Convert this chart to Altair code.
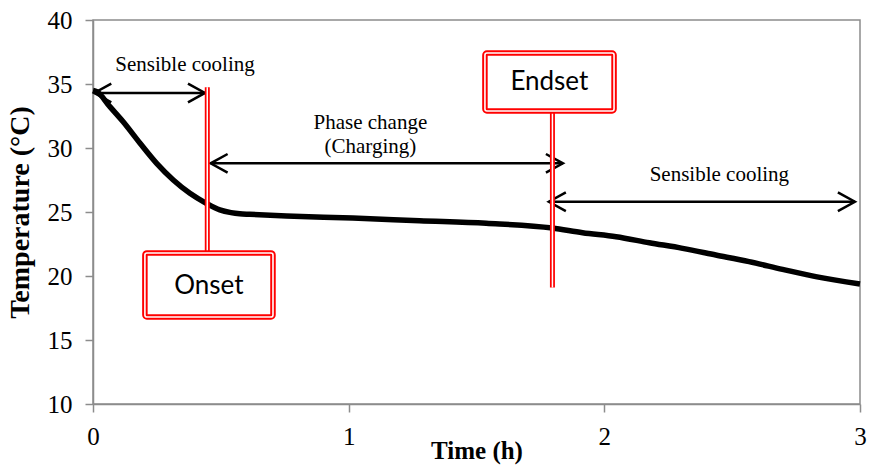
import altair as alt
import pandas as pd

# Cooling curve of the PCM sample: time (h) vs temperature (°C)
time_h = [0.0, 0.015, 0.066, 0.118, 0.184, 0.249, 0.314, 0.379, 0.443, 0.496,
          0.540, 0.574, 0.613, 0.757, 1.016, 1.277, 1.538, 1.797, 1.915, 2.046,
          2.176, 2.306, 2.436, 2.566, 2.697, 2.827, 3.0]
temp_c = [34.5, 34.4, 33.23, 32.05, 30.37, 28.8, 27.5, 26.46, 25.68, 25.16,
          24.95, 24.86, 24.82, 24.69, 24.53, 24.32, 24.12, 23.75, 23.38, 23.07,
          22.6, 22.16, 21.64, 21.12, 20.52, 19.95, 19.37]

# Double-headed arrows marking the stages
arrow_start = [0.005, 0.46, 1.783]
arrow_end = [0.438, 1.838, 2.98]
arrow_level = [34.3, 28.8, 25.8]

# Stage labels
stage_text = ["Sensible cooling", "Phase change", "(Charging)", "Sensible cooling"]
stage_t = [0.36, 1.085, 1.085, 2.45]
stage_temp = [36.5, 31.95, 30.05, 27.9]

# Onset / endset markers: leader line and boxed label
marker_text = ["Onset", "Endset"]
marker_t = [0.447, 1.797]
marker_top = [34.75, 32.89]
marker_bottom = [21.8, 19.1]
box_left = [0.203, 1.533]
box_right = [0.704, 2.038]
box_low = [16.8, 32.89]
box_high = [21.8, 37.42]
label_t = [0.453, 1.785]
label_temp = [19.25, 35.12]

curve = pd.DataFrame({"t": time_h, "T": temp_c})
arrows = pd.DataFrame({"x1": arrow_start, "x2": arrow_end, "y": arrow_level})
stages = pd.DataFrame({"label": stage_text, "t": stage_t, "T": stage_temp})
markers = pd.DataFrame({
    "label": marker_text, "t": marker_t, "top": marker_top, "bottom": marker_bottom,
    "bl": box_left, "br": box_right, "blow": box_low, "bhigh": box_high,
    "lt": label_t, "lT": label_temp,
})

GRAY = "#8c8c8c"
SERIF = "Liberation Serif"

x_scale = alt.Scale(domain=[0, 3], nice=False)
y_scale = alt.Scale(domain=[10, 40], nice=False)

x_axis = alt.Axis(
    title="Time (h)", values=[0, 1, 2, 3], format="d", grid=False, labelFlush=False,
    domainColor=GRAY, domainWidth=1.5, tickColor=GRAY, tickWidth=1.5, tickSize=8,
    labelFont=SERIF, labelFontSize=25, labelColor="black", labelPadding=12,
    titleFont=SERIF, titleFontSize=25, titleFontWeight="bold", titleColor="black",
    titlePadding=-11,
)
y_axis = alt.Axis(
    title="Temperature (°C)", values=[10, 15, 20, 25, 30, 35, 40], grid=False,
    labelFlush=False,
    domainColor=GRAY, domainWidth=1.5, tickColor=GRAY, tickWidth=1.5, tickSize=8,
    labelFont=SERIF, labelFontSize=25, labelColor="black", labelPadding=13,
    titleFont=SERIF, titleFontSize=28, titleFontWeight="bold", titleColor="black",
    titlePadding=13,
)

line = alt.Chart(curve).mark_line(color="black", strokeWidth=5.5, interpolate="monotone").encode(
    x=alt.X("t:Q", scale=x_scale, axis=x_axis),
    y=alt.Y("T:Q", scale=y_scale, axis=y_axis),
)

shafts = alt.Chart(arrows).mark_rule(color="black", strokeWidth=2.5).encode(
    x="x1:Q", x2="x2:Q", y="y:Q"
)
head_right = alt.Chart(arrows).mark_point(
    shape="M-1,-0.55L0,0L-1,0.55", size=1156, filled=False,
    stroke="black", strokeWidth=2.5, opacity=1,
).encode(x="x2:Q", y="y:Q")
head_left = alt.Chart(arrows).mark_point(
    shape="M1,-0.55L0,0L1,0.55", size=1156, filled=False,
    stroke="black", strokeWidth=2.5, opacity=1,
).encode(x="x1:Q", y="y:Q")

stage_labels = alt.Chart(stages).mark_text(
    font=SERIF, fontSize=21, color="black", align="center", baseline="middle"
).encode(x="t:Q", y="T:Q", text="label:N")

lead_red = alt.Chart(markers).mark_rule(color="#ff0000", strokeWidth=5).encode(
    x="t:Q", y="top:Q", y2="bottom:Q"
)
lead_white = alt.Chart(markers).mark_rule(color="white", strokeWidth=1.5).encode(
    x="t:Q", y="top:Q", y2="bottom:Q"
)
# double red frame: wide red stroke with a thin white stroke along its middle
box_red = alt.Chart(markers).mark_rect(
    fill="white", stroke="#ff0000", strokeWidth=5.5, cornerRadius=2
).encode(x="bl:Q", x2="br:Q", y="blow:Q", y2="bhigh:Q")
box_white = alt.Chart(markers).mark_rect(
    fillOpacity=0, stroke="white", strokeWidth=1.6, cornerRadius=2
).encode(x="bl:Q", x2="br:Q", y="blow:Q", y2="bhigh:Q")
box_text = alt.Chart(markers).mark_text(
    font="Lato", fontSize=26, color="black", align="center", baseline="middle"
).encode(x="lt:Q", y="lT:Q", text="label:N")

chart = alt.layer(
    line, shafts, head_right, head_left, stage_labels,
    lead_red, lead_white, box_red, box_white, box_text,
).properties(
    width=767, height=384,
    autosize=alt.AutoSizeParams(type="none"),
    padding={"left": 93, "top": 20, "right": 9, "bottom": 66},
    background="white",
).configure_view(stroke=GRAY, strokeWidth=1.5)

chart.save("out.html", embed_options={"renderer": "svg", "actions": False})
